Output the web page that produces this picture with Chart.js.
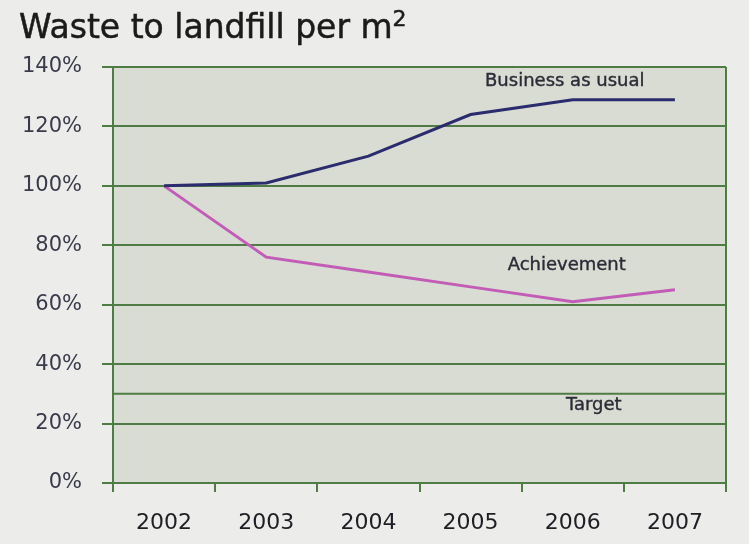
<!DOCTYPE html>
<html>
<head>
<meta charset="utf-8">
<script src="https://cdn.jsdelivr.net/npm/chart.js@4/dist/chart.umd.min.js"></script>
<style>
    html, body { margin: 0; padding: 0; background: #ececea; }
    #wrap { position: relative; width: 749px; height: 544px; }
    #title {
        position: absolute; left: 19px; top: 7px;
        font-family: "DejaVu Sans", sans-serif; font-size: 33px;
        color: #1b1b1b; -webkit-text-stroke: 0.5px #1b1b1b;
    }
    #title sup { font-size: 22px; vertical-align: 12px; line-height: 0; }
    canvas { display: block; }
</style>
</head>
<body>
<div id="wrap">
    <canvas id="chart" width="749" height="544"></canvas>
    <div id="title">Waste to landfill per m<sup>2</sup></div>
</div>
<script>
// Data
const years = ['2002', '2003', '2004', '2005', '2006', '2007'];
const businessAsUsual = [100, 101, 110, 124, 129, 129];
const achievement = [100, 76, 71, 66, 61, 65];
const target = 30;
const yTicks = [0, 20, 40, 60, 80, 100, 120, 140];

const green = '#4f7c44';
const labelFont = { family: 'DejaVu Sans', size: 18 };

// Plot background, right border and the target rule
const plotDecor = {
    id: 'plotDecor',
    beforeDraw(chart) {
        const { ctx, chartArea: a } = chart;
        ctx.save();
        ctx.fillStyle = '#d8dcd2';
        ctx.fillRect(a.left, a.top, a.right - a.left, a.bottom - a.top);
        ctx.restore();
    },
    beforeDatasetsDraw(chart) {
        const { ctx, chartArea: a, scales } = chart;
        const ty = scales.y.getPixelForValue(target);
        ctx.save();
        ctx.strokeStyle = green;
        ctx.lineWidth = 2;
        ctx.beginPath();
        ctx.moveTo(a.left, ty);
        ctx.lineTo(a.right, ty);
        ctx.moveTo(a.right, a.top);
        ctx.lineTo(a.right, a.bottom);
        ctx.stroke();
        ctx.restore();
    }
};

// Series names written next to their lines
const seriesLabels = {
    id: 'seriesLabels',
    afterDatasetsDraw(chart) {
        const { ctx, scales } = chart;
        const x = scales.x, y = scales.y;
        ctx.save();
        ctx.font = `${labelFont.size}px "${labelFont.family}"`;
        ctx.fillStyle = '#2c2c38';
        ctx.strokeStyle = '#2c2c38';
        ctx.lineWidth = 0.4;
        ctx.textAlign = 'center';
        ctx.textBaseline = 'middle';
        const items = [
            ['Business as usual', x.getPixelForValue(4) - 8, y.getPixelForValue(businessAsUsual[4]) - 18],
            ['Achievement', x.getPixelForValue(4) - 6, y.getPixelForValue(achievement[4]) - 36],
            ['Target', x.getPixelForValue(4) + 21, y.getPixelForValue(target) + 11]
        ];
        items.forEach(([t, px, py]) => {
            ctx.fillText(t, px, py);
            ctx.strokeText(t, px, py);
        });
        ctx.restore();
    }
};

new Chart(document.getElementById('chart'), {
    type: 'line',
    data: {
        labels: years,
        datasets: [
            {
                label: 'Business as usual',
                data: businessAsUsual,
                borderColor: '#2b2c6e',
                borderWidth: 3,
                pointRadius: 0,
                tension: 0
            },
            {
                label: 'Achievement',
                data: achievement,
                borderColor: '#c35cb6',
                borderWidth: 3,
                pointRadius: 0,
                tension: 0
            }
        ]
    },
    options: {
        responsive: false,
        animation: false,
        layout: { padding: { top: 67, right: 23, left: 0, bottom: 0 } },
        plugins: {
            legend: { display: false },
            tooltip: { enabled: false }
        },
        scales: {
            x: {
                offset: true,
                grid: {
                    offset: true,
                    drawOnChartArea: false,
                    drawTicks: true,
                    tickLength: 9,
                    color: green,
                    lineWidth: 2
                },
                border: { color: green, width: 2 },
                ticks: {
                    color: '#1e1e24',
                    font: { family: 'DejaVu Sans', size: 22 },
                    padding: 18,
                    maxRotation: 0
                },
                afterFit(scale) { scale.height = 61; }
            },
            y: {
                min: 0,
                max: 140,
                afterBuildTicks(scale) {
                    scale.ticks = yTicks.map(v => ({ value: v }));
                },
                grid: {
                    color: green,
                    lineWidth: 2,
                    tickLength: 11
                },
                border: { color: green, width: 2 },
                ticks: {
                    color: '#3a3b4a',
                    font: { family: 'DejaVu Sans', size: 21 },
                    padding: 20,
                    callback: v => v + '%'
                },
                afterFit(scale) { scale.width = 113; }
            }
        }
    },
    plugins: [plotDecor, seriesLabels]
});
</script>
</body>
</html>
